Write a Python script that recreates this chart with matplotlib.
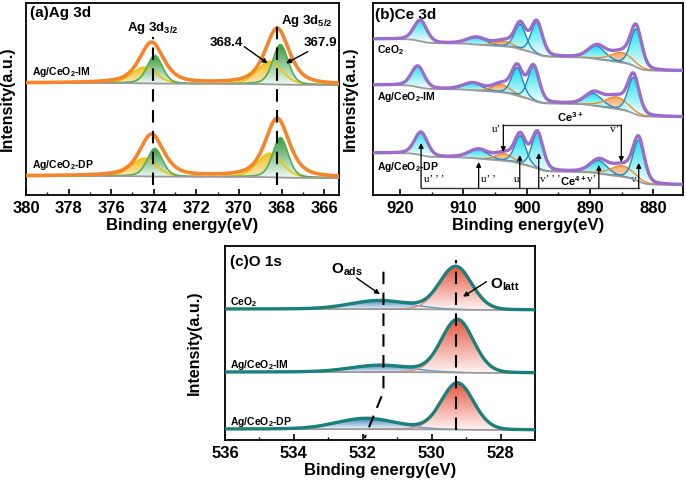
import numpy as np
import matplotlib
matplotlib.use("Agg")
import matplotlib.pyplot as plt
from matplotlib.patches import Polygon
from matplotlib.colors import to_rgba

plt.rcParams['font.family'] = ['Liberation Sans', 'DejaVu Sans']
plt.rcParams['font.weight'] = 'bold'
plt.rcParams['mathtext.fontset'] = 'custom'
plt.rcParams['mathtext.rm'] = 'Liberation Sans:bold'
plt.rcParams['mathtext.it'] = 'Liberation Sans:bold'
plt.rcParams['mathtext.bf'] = 'Liberation Sans:bold'
plt.rcParams['mathtext.default'] = 'rm'

# ---------------- data: panel (a) Ag 3d ----------------
a_samples = ['Ag/CeO$_2$-IM', 'Ag/CeO$_2$-DP']
a_base_high = [112, 19]
a_base_low = [110, 17]
a_centers = [374.45, 373.95, 368.55, 368.05]
a_kinds = ['y', 'g', 'y', 'g']
a_heights = [[16, 28, 23, 40], [18, 28, 24, 40]]
a_fwhm = [1.35, 0.85, 1.35, 0.85]
a_env_centers = [374.1, 368.2]
a_env_heights = [[41, 56], [42, 59]]
a_env_fwhm = [1.35, 1.35]
a_ticks = [380, 378, 376, 374, 372, 370, 368, 366]
a_dash_x = [374.05, 368.2]
a_dash_top = [158, 173]

# ---------------- data: panel (b) Ce 3d ----------------
b_samples = ['CeO$_2$', 'Ag/CeO$_2$-IM', 'Ag/CeO$_2$-DP']
b_peak_names = ["u'''", "u''", "u'", "u", "v'''", "v''", "v'", "v"]
b_states = ['4', '4', '3', '4', '4', '4', '3', '4']
b_centers = [[916.8, 907.9, 903.6, 901.0, 898.4, 888.9, 885.0, 882.7],
             [917.2, 908.5, 904.0, 901.5, 898.9, 889.4, 885.8, 883.1],
             [916.7, 907.6, 903.6, 901.0, 898.3, 888.6, 884.9, 882.3]]
b_heights = [[21, 7, 5, 25, 32, 13, 10, 38],
             [21, 7, 8, 28, 34, 12, 12, 36],
             [23, 9, 7, 28, 36, 13, 11, 41]]
b_fwhm = [2.4, 3.6, 3.2, 2.1, 2.1, 3.2, 4.2, 2.1]
b_base_high = [156, 110, 42]
b_base_low = [124, 78, 10]
b_ticks = [920, 910, 900, 890, 880]
b_ce4_x = [916.7, 907.6, 901.1, 898.1, 888.6, 882.3]
b_ce4_tip = [52, 33, 40, 42, 30, 32]
b_ce4_text = ["u\u2019 \u2019 \u2019", "u\u2019 \u2019", "u", "v\u2019 \u2019 \u2019", "v\u2019", "v"]
b_ce4_text_x = [916.3, 907.3, 902.1, 897.9, 890.5, 883.5]
b_ce3_x = [903.7, 885.05]
b_ce3_tip = [43, 33]
b_ce3_text = ["u\u2019", "v\u2019"]
b_ce3_text_x = [905.5, 886.8]

# ---------------- data: panel (c) O 1s ----------------
c_samples = ['CeO$_2$', 'Ag/CeO$_2$-IM', 'Ag/CeO$_2$-DP']
c_base_high = [131, 68, 11]
c_base_low = [130, 67, 10]
c_centers = [[531.5, 529.3], [531.5, 529.25], [531.9, 529.25]]
c_heights = [[8.5, 43], [6.7, 53], [10.7, 46.7]]
c_fwhm = [2.0, 1.1]
c_ticks = [536, 534, 532, 530, 528]


def pv(x, c, h, w, eta):
    g = np.exp(-4 * np.log(2) * ((x - c) / w) ** 2)
    l = 1.0 / (1 + 4 * ((x - c) / w) ** 2)
    return h * (eta * l + (1 - eta) * g)


def shirley(x, total, b_low, b_high):
    cum = np.concatenate([[0], np.cumsum(0.5 * (total[1:] + total[:-1]) * np.diff(x))])
    return b_low + (b_high - b_low) * cum / cum[-1]


def grad_fill(ax, x, top, base, c_top, c_bot, z):
    verts = np.vstack([np.column_stack([x, top]), np.column_stack([x[::-1], base[::-1]])])
    poly = Polygon(verts, closed=True, fc='none', ec='none')
    ax.add_patch(poly)
    n = 200
    t = np.linspace(0, 1, n)[:, None]
    ct = np.array(to_rgba(c_top))
    cb = np.array(to_rgba(c_bot))
    img = (ct * (1 - t) + cb * t)[:, None, :]
    im = ax.imshow(img, extent=[x.min(), x.max(), base.min(), top.max()], origin='upper',
                   aspect='auto', zorder=z, interpolation='bilinear')
    im.set_clip_path(poly)


def style_axis(ax, xlim, ylim, ticks, minor):
    ax.set_xlim(*xlim)
    ax.set_ylim(*ylim)
    ax.set_xticks(ticks)
    ax.set_xticks(minor, minor=True)
    ax.set_yticks([])
    ax.tick_params(axis='x', which='major', direction='in', length=4, width=1.2,
                   labelsize=12, pad=4)
    ax.tick_params(axis='x', which='minor', direction='in', length=2, width=1)
    for lab in ax.get_xticklabels():
        lab.set_fontweight('bold')
    for s in ax.spines.values():
        s.set_linewidth(1.3)
    ax.set_xlabel('Binding energy(eV)', fontsize=12, fontweight='bold', labelpad=2)
    ax.set_ylabel('Intensity(a.u.)', fontsize=11.5, fontweight='bold')


fig = plt.figure(figsize=(6.86, 4.86), dpi=100)
W, H = 686.0, 486.0
axa = fig.add_axes([26 / W, (H - 195) / H, 313 / W, 192 / H])
axb = fig.add_axes([373 / W, (H - 195) / H, 310 / W, 192 / H])
axc = fig.add_axes([225 / W, (H - 440) / H, 310 / W, 194 / H])

grey = '#9a9a9a'

# ---------------- panel (a) ----------------
x = np.linspace(365.0, 380.0, 1500)
kcol = {'y': ('#f0c020', '#fbe9c8', '#f2c300'), 'g': ('#3a9a3a', '#eef9f6', '#4cb050')}
for i, s in enumerate(a_samples):
    peaks = [pv(x, c, h, w, 0.3) for c, h, w in zip(a_centers, a_heights[i], a_fwhm)]
    env = np.sum([pv(x, c, h, w, 0.6) for c, h, w in zip(a_env_centers, a_env_heights[i], a_env_fwhm)], axis=0)
    base = shirley(x, env, a_base_low[i], a_base_high[i])
    order = [0, 2, 1, 3]
    for j in order:
        ctop, cbot, cline = kcol[a_kinds[j]]
        m = peaks[j] > 0.3
        grad_fill(axa, x[m], base[m] + peaks[j][m], base[m], ctop, cbot, 2 + (a_kinds[j] == 'g'))
        axa.plot(x[m], base[m] + peaks[j][m], color=cline, lw=1.2, zorder=4)
    axa.plot(x, base, color=grey, lw=1.3, zorder=5)
    axa.plot(x, base + env, color='#f5852b', lw=2.6, zorder=6)
    axa.text(379.7, a_base_high[i] + 11, s, fontsize=7.5, fontweight='bold', va='center', ha='left')
for dx, dt in zip(a_dash_x, a_dash_top):
    axa.plot([dx, dx], [10, dt], color='k', lw=1.5, ls=(0, (6, 4)), zorder=7)
axa.text(379.8, 182, '(a)Ag 3d', fontsize=11, fontweight='bold', va='center', ha='left')
axa.text(374.05, 167, 'Ag 3d$_{3/2}$', fontsize=9.5, ha='center', va='center')
axa.text(366.8, 174, 'Ag 3d$_{5/2}$', fontsize=9.5, ha='center', va='center')
axa.text(370.58, 152, '368.4', fontsize=9.5, ha='center', va='center')
axa.text(366.15, 152, '367.9', fontsize=9.5, ha='center', va='center')
axa.annotate('', xy=(368.65, 131.7), xytext=(369.75, 148.3),
             arrowprops=dict(arrowstyle='-|>', color='k', lw=1, mutation_scale=7, shrinkA=0, shrinkB=0), zorder=8)
axa.annotate('', xy=(367.79, 131.7), xytext=(366.77, 143.3),
             arrowprops=dict(arrowstyle='-|>', color='k', lw=1, mutation_scale=7, shrinkA=0, shrinkB=0), zorder=8)
style_axis(axa, (380, 365.3), (0, 192), a_ticks, np.arange(366, 381, 1))
axa.yaxis.set_label_coords(-0.036, 0.5)

# ---------------- panel (b) ----------------
x = np.linspace(874.0, 926.0, 3000)
for i, s in enumerate(b_samples):
    peaks = [pv(x, c, h, w, 0.3) for c, h, w in zip(b_centers[i], b_heights[i], b_fwhm)]
    total = np.sum(peaks, axis=0)
    base = shirley(x, total, b_base_low[i], b_base_high[i])
    for j, st in enumerate(b_states):
        m = peaks[j] > 0.3
        if st == '4':
            grad_fill(axb, x[m], base[m] + peaks[j][m], base[m], '#1fe0ee', '#ffffff', 3)
            axb.plot(x[m], base[m] + peaks[j][m], color='#2a86b8', lw=1.0, zorder=4)
        else:
            grad_fill(axb, x[m], base[m] + peaks[j][m], base[m], '#f5a868', '#fff8f2', 2)
            axb.plot(x[m], base[m] + peaks[j][m], color='#f08a24', lw=1.0, zorder=4)
    axb.plot(x, base, color=grey, lw=1.3, zorder=5)
    axb.plot(x, base + total, color='#9c6ccb', lw=2.4, zorder=6)
label_y_b = [145, 98.3, 28.3]
for s, ly in zip(b_samples, label_y_b):
    axb.text(923.7, ly, s, fontsize=7.5, fontweight='bold', va='center', ha='left')
axb.text(924.0, 180, '(b)Ce 3d', fontsize=11, fontweight='bold', va='center', ha='left')
ap = dict(arrowstyle='-|>', color='k', lw=0.9, mutation_scale=7, shrinkA=0, shrinkB=0)
axb.plot([b_ce4_x[0], b_ce4_x[-1]], [7.3, 7.3], color='#333333', lw=1.0, zorder=7)
for bx, tip in zip(b_ce4_x, b_ce4_tip):
    axb.annotate('', xy=(bx, tip), xytext=(bx, 7.3), arrowprops=ap, zorder=8)
for t, tx in zip(b_ce4_text, b_ce4_text_x):
    axb.text(tx, 16, t, fontsize=8, family='Liberation Serif', fontweight='normal', ha='left', va='center')
axb.text(892.7, 14, 'Ce$^{4+}$', fontsize=8, ha='center', va='center')
axb.plot([b_ce3_x[0], b_ce3_x[-1]], [70, 70], color='#333333', lw=1.0, zorder=7)
for bx, tip in zip(b_ce3_x, b_ce3_tip):
    axb.annotate('', xy=(bx, tip), xytext=(bx, 70), arrowprops=ap, zorder=8)
for t, tx in zip(b_ce3_text, b_ce3_text_x):
    axb.text(tx, 65.5, t, fontsize=8, family='Liberation Serif', fontweight='normal', ha='left', va='center')
axb.text(893.1, 77.7, 'Ce$^{3+}$', fontsize=8, ha='center', va='center')
style_axis(axb, (924.3, 875.3), (0, 192), b_ticks, np.arange(880, 925, 5))
axb.yaxis.set_label_coords(-0.05, 0.5)

# ---------------- panel (c) ----------------
x = np.linspace(526.0, 537.0, 1500)
for i, s in enumerate(c_samples):
    p_ads = pv(x, c_centers[i][0], c_heights[i][0], c_fwhm[0], 0.1)
    p_lat = pv(x, c_centers[i][1], c_heights[i][1], c_fwhm[1], 0.1)
    total = p_ads + p_lat
    base = shirley(x, total, c_base_low[i], c_base_high[i])
    m = p_ads > 0.2
    grad_fill(axc, x[m], base[m] + p_ads[m], base[m], '#3f86bd', '#ffffff', 2)
    axc.plot(x[m], base[m] + p_ads[m], color='#5b9bd5', lw=1.0, zorder=4)
    m = p_lat > 0.2
    grad_fill(axc, x[m], base[m] + p_lat[m], base[m], '#e4553f', '#fff6f4', 3)
    axc.plot(x[m], base[m] + p_lat[m], color='#f08a7a', lw=1.0, zorder=4)
    axc.plot(x, base, color=grey, lw=1.3, zorder=5)
    axc.plot(x, base + total, color='#1b7f7a', lw=2.4, zorder=6)
label_y_c = [138.3, 75, 18.3]
for s, ly in zip(c_samples, label_y_c):
    axc.text(535.85, ly, s, fontsize=7.5, fontweight='bold', va='center', ha='left')
axc.text(535.85, 178.3, '(c)O 1s', fontsize=11, fontweight='bold', va='center', ha='left')
axc.plot([529.3, 529.3], [10, 180], color='k', lw=1.5, ls=(0, (6, 4)), zorder=7)
axc.plot([531.4, 531.4, 531.95], [168.3, 48.3, 1.7], color='k', lw=1.5, ls=(0, (6, 4)), zorder=7)
axc.text(532.47, 170, 'O$_{ads}$', fontsize=11, ha='center', va='center')
axc.text(527.88, 155, 'O$_{latt}$', fontsize=11, ha='center', va='center')
axc.annotate('', xy=(531.5, 145.7), xytext=(532.18, 162),
             arrowprops=dict(arrowstyle='-|>', color='k', lw=1, mutation_scale=7, shrinkA=0, shrinkB=0), zorder=8)
axc.annotate('', xy=(529.09, 143.3), xytext=(528.41, 158.3),
             arrowprops=dict(arrowstyle='-|>', color='k', lw=1, mutation_scale=7, shrinkA=0, shrinkB=0), zorder=8)
style_axis(axc, (536, 527), (0, 194), c_ticks, np.arange(528, 537, 1))
axc.yaxis.set_label_coords(-0.075, 0.5)

fig.savefig('out.png', dpi=100)
